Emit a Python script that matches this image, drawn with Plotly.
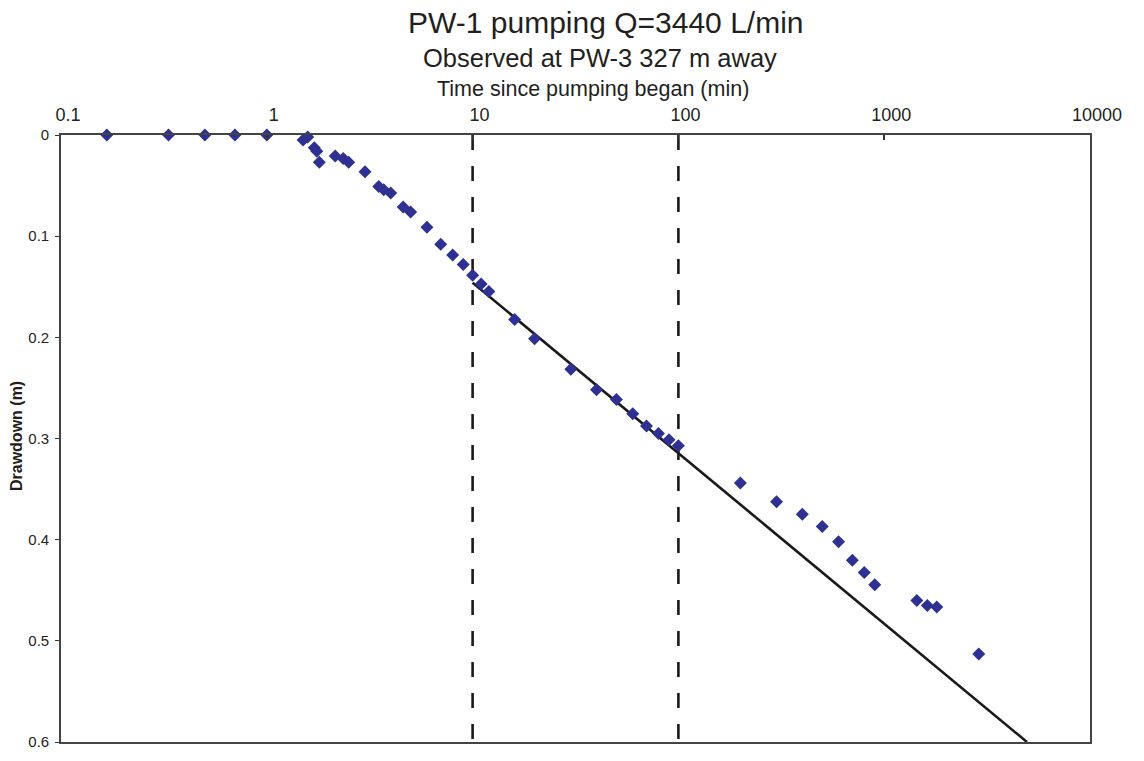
import plotly.graph_objects as go

# ---- data ----
time_min = [0.167, 0.333, 0.5, 0.7, 1.0,
            1.5, 1.58, 1.7, 1.75, 1.8,
            2.15, 2.35, 2.5, 3.0, 3.5,
            3.7, 4.0, 4.6, 5.0, 6.0,
            7, 8, 9, 10, 11,
            12, 16, 20, 30, 40,
            50, 60, 70, 80, 90,
            100, 200, 300, 400, 500,
            600, 700, 800, 900, 1440,
            1620, 1800, 2880]
drawdown_m = [0, 0, 0, 0, 0,
              0.005, 0.002, 0.0125, 0.016, 0.027,
              0.0207, 0.0232, 0.027, 0.0363, 0.051,
              0.054, 0.0574, 0.0711, 0.076, 0.0913,
              0.108, 0.1187, 0.128, 0.1387, 0.1473,
              0.1548, 0.1824, 0.2014, 0.2316, 0.2518,
              0.2615, 0.2756, 0.2876, 0.2951, 0.3013,
              0.3071, 0.344, 0.3625, 0.3748, 0.387,
              0.4021, 0.4204, 0.4324, 0.4445, 0.4602,
              0.465, 0.4666, 0.5129]

fit_time = [10, 4940]
fit_drawdown = [0.146, 0.6]

guide_times = [10, 100]
y_range = [0, 0.6]

x_tickvals = [0.1, 1, 10, 100, 1000, 10000]
x_ticktext = ["0.1", "1", "10", "100", "1000", "10000"]
y_tickvals = [0, 0.1, 0.2, 0.3, 0.4, 0.5, 0.6]
y_ticktext = ["0", "0.1", "0.2", "0.3", "0.4", "0.5", "0.6"]

FONT = "Liberation Sans, Arial, Helvetica, sans-serif"
TXT = "#231f20"

fig = go.Figure()

for t in guide_times:
    fig.add_trace(go.Scatter(
        x=[t, t], y=y_range, mode="lines",
        line=dict(color="#1a1a1a", width=2.6, dash="15px,16px"),
        hoverinfo="skip", showlegend=False, cliponaxis=False))

fig.add_trace(go.Scatter(
    x=fit_time, y=fit_drawdown, mode="lines",
    line=dict(color="#1a1a1a", width=2.6),
    hoverinfo="skip", showlegend=False))

fig.add_trace(go.Scatter(
    x=time_min, y=drawdown_m, mode="markers",
    marker=dict(symbol="diamond", size=10, color="rgb(46,49,146)", line=dict(width=0)),
    showlegend=False, cliponaxis=False))

fig.update_layout(
    width=1144, height=761,
    margin=dict(l=61, r=54, t=135, b=11),
    paper_bgcolor="white", plot_bgcolor="white",
    font=dict(family=FONT, color=TXT),
    showlegend=False,
    xaxis=dict(
        type="log", range=[-1, 4], side="top",
        tickvals=x_tickvals, ticktext=x_ticktext,
        ticks="inside", ticklen=5, tickwidth=1.5, tickcolor="#333",
        tickfont=dict(size=18, color=TXT, family=FONT),
        ticklabelstandoff=5, ticklabelshift=7,
        showline=True, linecolor="#444", linewidth=1.6, mirror=True,
        showgrid=False, zeroline=False,
    ),
    yaxis=dict(
        range=[0.6, 0], autorange=False,
        tickvals=y_tickvals, ticktext=y_ticktext,
        ticks="outside", ticklen=4, tickwidth=1.2, tickcolor="#333",
        tickfont=dict(size=15, color=TXT, family=FONT),
        ticklabelstandoff=3,
        showline=True, linecolor="#444", linewidth=1.6, mirror=True,
        showgrid=False, zeroline=False,
    ),
    annotations=[
        dict(text="PW-1 pumping Q=3440 L/min", xref="paper", yref="paper",
             x=0.530, y=1.1847, xanchor="center", yanchor="middle",
             showarrow=False, font=dict(size=30, color=TXT, family=FONT)),
        dict(text="Observed at PW-3 327 m away", xref="paper", yref="paper",
             x=0.5234, y=1.1262, xanchor="center", yanchor="middle",
             showarrow=False, font=dict(size=25.5, color=TXT, family=FONT)),
        dict(text="Time since pumping began (min)", xref="paper", yref="paper",
             x=0.5167, y=1.0760, xanchor="center", yanchor="middle",
             showarrow=False, font=dict(size=21.5, color=TXT, family=FONT)),
        dict(text="<b>Drawdown (m)</b>", xref="paper", yref="paper",
             x=-0.0425, y=0.5045, xanchor="center", yanchor="middle",
             textangle=-90, showarrow=False,
             font=dict(size=16, color=TXT, family=FONT)),
    ],
)

fig.write_html("out.html")
